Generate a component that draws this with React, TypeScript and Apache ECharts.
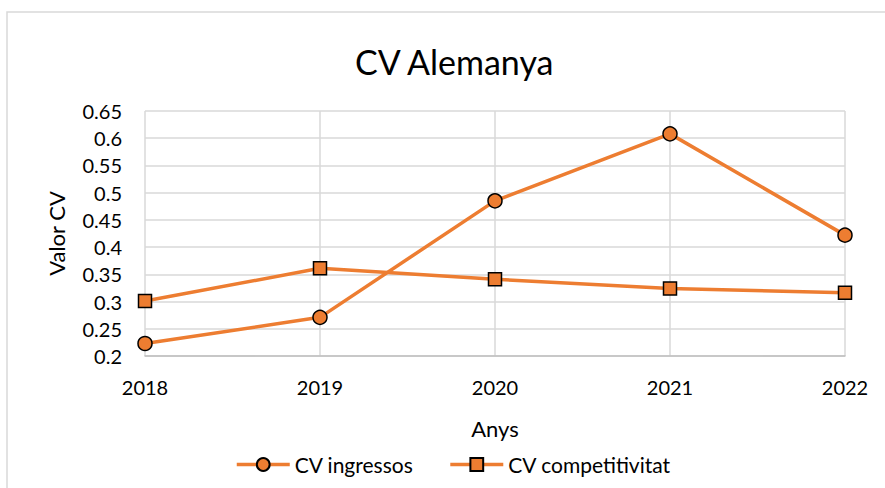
import React, { useEffect, useRef } from "react";
import * as echarts from "echarts";

const years = ["2018", "2019", "2020", "2021", "2022"];
const cvIngressos = [0.223, 0.271, 0.485, 0.608, 0.422];
const cvCompetitivitat = [0.301, 0.361, 0.341, 0.324, 0.316];

const ORANGE = "#ED7D31";
const FONT = "Lato";

export default function App() {
  const ref = useRef<HTMLDivElement>(null);
  useEffect(() => {
    if (!ref.current) return;
    const chart = echarts.init(ref.current, null, { renderer: "svg" });
    chart.setOption({
      animation: false,
      backgroundColor: "#ffffff",
      textStyle: { fontFamily: FONT, color: "#000" },
      graphic: [
        {
          type: "rect",
          shape: { x: 7, y: 12, width: 900, height: 500 },
          style: { fill: "none", stroke: "#d9d9d9", lineWidth: 1.5 },
          silent: true,
        },
      ],
      title: {
        text: "CV Alemanya",
        left: 350,
        top: 39,
        textStyle: { fontFamily: FONT, fontSize: 34, fontWeight: "normal", color: "#000" },
      },
      grid: { left: 145, right: 40, top: 111, bottom: 132 },
      legend: {
        left: 230,
        top: 449,
        itemWidth: 53,
        itemHeight: 16,
        itemGap: 35,
        lineStyle: { width: 3.5 },
        textStyle: { fontFamily: FONT, fontSize: 21, color: "#000" },
        data: ["CV ingressos", "CV competitivitat"],
      },
      xAxis: {
        type: "category",
        data: years,
        boundaryGap: false,
        name: "Anys",
        nameLocation: "middle",
        nameGap: 61,
        nameTextStyle: { fontFamily: FONT, fontSize: 22, color: "#000" },
        axisLine: { show: true, lineStyle: { color: "#bfbfbf", width: 1.5 } },
        axisTick: { show: false },
        axisLabel: { margin: 21, fontFamily: FONT, fontSize: 20, color: "#000" },
        splitLine: { show: true, lineStyle: { color: "#d9d9d9", width: 1.5 } },
      },
      yAxis: {
        type: "value",
        min: 0.2,
        max: 0.65,
        interval: 0.05,
        name: "Valor CV",
        nameLocation: "middle",
        nameGap: 78,
        nameTextStyle: { fontFamily: FONT, fontSize: 22, color: "#000" },
        axisLine: { show: false },
        axisTick: { show: false },
        axisLabel: {
          margin: 23,
          fontFamily: FONT,
          fontSize: 20,
          color: "#000",
          formatter: (v: number) => String(parseFloat(v.toFixed(2))),
        },
        splitLine: { show: true, lineStyle: { color: "#d9d9d9", width: 1.5 } },
      },
      series: [
        {
          name: "CV ingressos",
          type: "line",
          data: cvIngressos,
          symbol: "circle",
          symbolSize: 14,
          lineStyle: { color: ORANGE, width: 3.5 },
          itemStyle: { color: ORANGE, borderColor: "#000", borderWidth: 1.5 },
        },
        {
          name: "CV competitivitat",
          type: "line",
          data: cvCompetitivitat,
          symbol: "rect",
          symbolSize: 13,
          lineStyle: { color: ORANGE, width: 3.5 },
          itemStyle: { color: ORANGE, borderColor: "#000", borderWidth: 1.5 },
        },
      ],
    });
    return () => chart.dispose();
  }, []);
  return (
    <div
      ref={ref}
      style={{ position: "fixed", left: 0, top: 0, width: 885, height: 488 }}
    />
  );
}
